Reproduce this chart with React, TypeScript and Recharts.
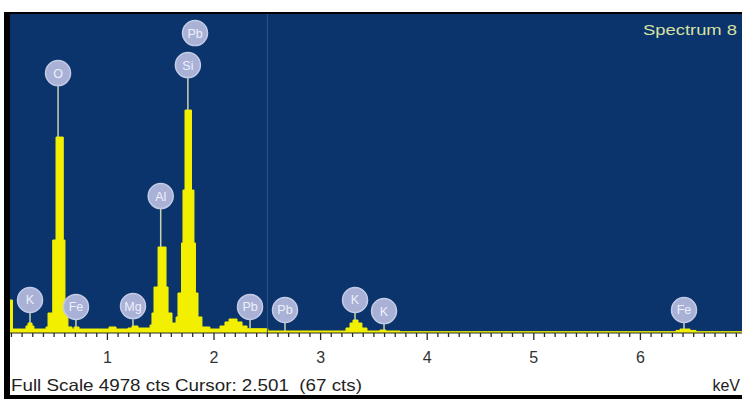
import { ComposedChart, Area, XAxis, YAxis, Scatter, ReferenceLine, CartesianGrid } from "recharts"

// spectrum, drawn as steps: counts hold from each energy to the next
const ENERGY = [
  0.086, 0.110, 0.236, 0.255, 0.293, 0.311, 0.424, 0.443, 0.487, 0.518, 0.586, 0.602, 0.630,
  0.668, 0.687, 0.734, 1.015, 1.081, 1.193, 1.231, 1.287, 1.400, 1.418, 1.437, 1.475, 1.550,
  1.569, 1.606, 1.644, 1.662, 1.695, 1.709, 1.728, 1.789, 1.812, 1.826, 1.850, 1.887, 1.962,
  2.056, 2.103, 2.141, 2.216, 2.263, 2.310, 2.506, 3.238, 3.276, 3.304, 3.351, 3.388, 3.435,
  3.557, 3.613, 3.745, 6.334, 6.371, 6.465, 6.522, 6.953,
]
const COUNTS = [
  515, 62, 110, 156, 110, 62, 94, 312, 1451, 3058, 1451, 312, 94,
  62, 94, 62, 94, 62, 78, 109, 78, 125, 312, 718, 1342, 718,
  312, 156, 250, 624, 1404, 2231, 3479, 2231, 1404, 624, 250, 94, 62,
  109, 172, 218, 172, 109, 67, 31, 78, 156, 203, 156, 78, 31,
  47, 31, 20, 40, 62, 40, 20, 20,
]

const LABEL_NAMES = ["K", "O", "Fe", "Mg", "Al", "Si", "Pb", "Pb", "Pb", "K", "K", "Fe"]
const LABEL_ENERGY = [0.274, 0.537, 0.705, 1.240, 1.500, 1.755, 1.822, 2.338, 2.666, 3.323, 3.595, 6.409]
const LABEL_HEIGHT = [515, 4056, 406, 421, 2137, 4181, 4680, 406, 359, 515, 343, 359]
const LABEL_STEM = [true, true, true, true, true, true, false, true, true, true, true, true]

const MAJOR_TICKS = [1, 2, 3, 4, 5, 6]
const FULL_SCALE = 4978
const CURSOR_KEV = 2.501
const CURSOR_CTS = 67
const SPECTRUM_NAME = "Spectrum 8"

const X_MIN = 0.0863
const X_MAX = 6.953

const spectrum = ENERGY.map((e, i) => ({ e, c: COUNTS[i] }))
const labels = LABEL_NAMES.map((name, i) => ({ e: LABEL_ENERGY[i], c: LABEL_HEIGHT[i], name }))

const minorTicks: number[] = []
for (let i = 1; i <= 69; i++) minorTicks.push(i / 10)

// counts of the step holding at energy e
function countAt(e: number) {
  let v = COUNTS[0]
  for (let i = 0; i < ENERGY.length; i++) if (ENERGY[i] <= e) v = COUNTS[i]
  return v
}

const FONT = "'Liberation Sans', Arial, sans-serif"

function KevTick(props: any) {
  const { x, y, payload } = props
  const v = payload.value
  const major = MAJOR_TICKS.some((m) => Math.abs(m - v) < 1e-6)
  return (
    <g>
      <line x1={x} x2={x} y1={y} y2={y + (major ? 7 : 4)} stroke="#2a2a2a" strokeWidth={1.3} />
      {major && (
        <text x={x} y={y + 30} textAnchor="middle" fontSize={16} fill="#333" fontFamily={FONT}>
          {Math.round(v)}
        </text>
      )}
    </g>
  )
}

function ElementLabel(props: any) {
  const { cx, cy, payload } = props
  return (
    <g>
      <circle cx={cx} cy={cy} r={12.5} fill="#a9b2d6" stroke="#c4cbe6" strokeWidth={1.5} />
      <text x={cx} y={cy + 4.5} textAnchor="middle" fontSize={12.5} fill="#eef0fa" fontFamily={FONT}>
        {payload.name}
      </text>
    </g>
  )
}

export default function App() {
  return (
    <div style={{ position: "absolute", left: 0, top: 0, width: 742, height: 399, background: "#fff", overflow: "hidden" }}>
      <div style={{ position: "absolute", left: 4, top: 12, width: 740, height: 390, background: "#000" }} />
      <div style={{ position: "absolute", left: 10, top: 14, width: 732, height: 381, background: "#fff" }}>
        <ComposedChart width={732} height={381} data={spectrum} margin={{ top: 0, right: 0, bottom: 0, left: 0 }}>
          <CartesianGrid fill="#0a346b" stroke="none" horizontal={false} vertical={false} />
          <XAxis
            dataKey="e"
            type="number"
            domain={[X_MIN, X_MAX]}
            allowDataOverflow
            ticks={minorTicks}
            interval={0}
            tick={<KevTick />}
            tickLine={false}
            tickSize={0}
            tickMargin={0}
            axisLine={{ stroke: "#2a2a2a" }}
            height={62}
          />
          <YAxis dataKey="c" type="number" domain={[0, FULL_SCALE]} hide allowDataOverflow />
          <ReferenceLine x={CURSOR_KEV} stroke="#34567f" strokeWidth={1} />
          <Area
            dataKey="c"
            type="stepAfter"
            fill="#f2f000"
            fillOpacity={1}
            stroke="#f2f000"
            strokeWidth={1}
            isAnimationActive={false}
          />
          {labels.map((l, i) =>
            LABEL_STEM[i] ? (
              <ReferenceLine
                key={i}
                segment={[{ x: l.e, y: countAt(l.e) }, { x: l.e, y: l.c }]}
                stroke="#c9d3b4"
                strokeWidth={1.5}
              />
            ) : null
          )}
          <Scatter data={labels} dataKey="c" shape={<ElementLabel />} isAnimationActive={false} />
        </ComposedChart>
      </div>
      <svg width={742} height={399} style={{ position: "absolute", left: 0, top: 0, pointerEvents: "none" }}>
        <text x={643} y={35} fontSize={15} fill="#d9e2a2" fontFamily={FONT} textLength={94} lengthAdjust="spacingAndGlyphs">
          {SPECTRUM_NAME}
        </text>
        <text
          x={11}
          y={391}
          fontSize={16.5}
          fill="#222"
          fontFamily={FONT}
          textLength={351}
          lengthAdjust="spacingAndGlyphs"
          style={{ whiteSpace: "pre" }}
        >
          {`Full Scale ${FULL_SCALE} cts Cursor: ${CURSOR_KEV}  (${CURSOR_CTS} cts)`}
        </text>
        <text x={740} y={391} textAnchor="end" fontSize={16} fill="#222" fontFamily={FONT}>
          keV
        </text>
      </svg>
    </div>
  )
}
